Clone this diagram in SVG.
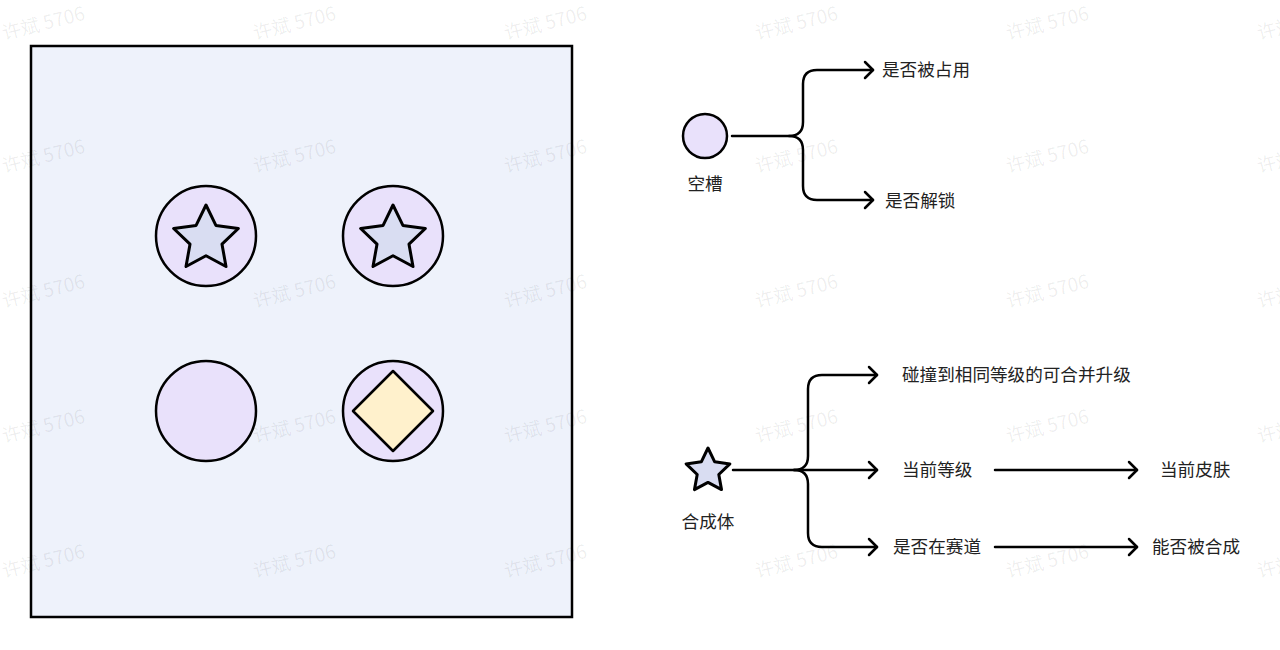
<svg xmlns="http://www.w3.org/2000/svg" xmlns:xlink="http://www.w3.org/1999/xlink" width="1280" height="650" viewBox="0 0 1280 650">
<style>
.ln{fill:none;stroke:#000;stroke-width:2.5;stroke-linecap:round;stroke-linejoin:round}
.ah{fill:none;stroke:#000;stroke-width:2.5;stroke-linecap:round;stroke-linejoin:round}
.slot{fill:#e9e1fb;stroke:#000;stroke-width:2.5}
.star{fill:#d9ddf2;stroke:#000;stroke-width:3;stroke-linejoin:round}
.t{font-family:"Noto Sans CJK SC","Noto Sans",sans-serif;font-size:17.6px;fill:#222}
.wm{font-family:"Noto Sans CJK SC","Noto Sans",sans-serif;font-size:19px;fill:#000;fill-opacity:0.07}
</style>
<defs>
<path id="starL" d="M0,-34 L9.9,-13.6 L32.34,-10.51 L16,5.2 L19.99,27.51 L0,16.8 L-19.99,27.51 L-16,5.2 L-32.34,-10.51 L-9.9,-13.6 Z"/>
<path id="starS" d="M0,-23 L6.7,-9.2 L21.88,-7.11 L10.8,3.5 L13.52,18.61 L0,11.4 L-13.52,18.61 L-10.8,3.5 L-21.88,-7.11 L-6.7,-9.2 Z"/>
<polyline id="head" points="-8,-8 0,0 -8,8"/>
</defs>
<rect width="1280" height="650" fill="#fff"/>

<g id="board">
<rect x="31" y="46" width="541" height="571" fill="#eef2fb" stroke="#000" stroke-width="2.5"/>
</g>
<g id="cell-star-1"><circle class="slot" cx="206" cy="236" r="50"/><use href="#starL" class="star" x="206" y="239"/></g>
<g id="cell-star-2"><circle class="slot" cx="393" cy="236" r="50"/><use href="#starL" class="star" x="393" y="239"/></g>
<g id="cell-empty"><circle class="slot" cx="206" cy="411" r="50"/></g>
<g id="cell-diamond"><circle class="slot" cx="393" cy="411" r="50"/><polygon points="393,371 433,411 393,451 353,411" fill="#fff1cc" stroke="#000" stroke-width="2.5" stroke-linejoin="round"/></g>

<g id="node-slot"><circle class="slot" cx="705" cy="136" r="22"/><text class="t" x="705" y="190" text-anchor="middle">空槽</text></g>
<g id="node-occupied"><text class="t" x="882" y="76">是否被占用</text></g>
<g id="node-unlock"><text class="t" x="885" y="207">是否解锁</text></g>

<g id="node-unit"><use href="#starS" class="star" x="708" y="471"/><text class="t" x="708" y="528" text-anchor="middle">合成体</text></g>
<g id="node-merge"><text class="t" x="902" y="381">碰撞到相同等级的可合并升级</text></g>
<g id="node-level"><text class="t" x="902" y="476">当前等级</text></g>
<g id="node-track"><text class="t" x="893" y="553">是否在赛道</text></g>
<g id="node-skin"><text class="t" x="1160" y="476">当前皮肤</text></g>
<g id="node-mergeable"><text class="t" x="1152" y="553">能否被合成</text></g>

<g id="connectors">
<path class="ln" d="M732 136 H789 Q803 136 803 122 V84 Q803 70 817 70 H873"/>
<path class="ln" d="M789 136 Q803 136 803 150 V186 Q803 200 817 200 H873"/>
<use href="#head" class="ah" x="873" y="70"/>
<use href="#head" class="ah" x="873" y="200"/>

<path class="ln" d="M733 470 H877"/>
<path class="ln" d="M794 470 Q808 470 808 456 V389 Q808 375 822 375 H877"/>
<path class="ln" d="M794 470 Q808 470 808 484 V533 Q808 547 822 547 H877"/>
<use href="#head" class="ah" x="877" y="375"/>
<use href="#head" class="ah" x="877" y="470"/>
<use href="#head" class="ah" x="877" y="547"/>

<path class="ln" d="M995 470 H1137"/>
<path class="ln" d="M995 547 H1137"/>
<use href="#head" class="ah" x="1137" y="470"/>
<use href="#head" class="ah" x="1137" y="547"/>
</g>

<g id="watermarks">
<text class="wm" transform="translate(4,40) rotate(-14)">许斌 5706</text>
<text class="wm" transform="translate(255,40) rotate(-14)">许斌 5706</text>
<text class="wm" transform="translate(506,40) rotate(-14)">许斌 5706</text>
<text class="wm" transform="translate(757,40) rotate(-14)">许斌 5706</text>
<text class="wm" transform="translate(1008,40) rotate(-14)">许斌 5706</text>
<text class="wm" transform="translate(1259,40) rotate(-14)">许斌 5706</text>
<text class="wm" transform="translate(4,173) rotate(-14)">许斌 5706</text>
<text class="wm" transform="translate(255,173) rotate(-14)">许斌 5706</text>
<text class="wm" transform="translate(506,173) rotate(-14)">许斌 5706</text>
<text class="wm" transform="translate(757,173) rotate(-14)">许斌 5706</text>
<text class="wm" transform="translate(1008,173) rotate(-14)">许斌 5706</text>
<text class="wm" transform="translate(1259,173) rotate(-14)">许斌 5706</text>
<text class="wm" transform="translate(4,308) rotate(-14)">许斌 5706</text>
<text class="wm" transform="translate(255,308) rotate(-14)">许斌 5706</text>
<text class="wm" transform="translate(506,308) rotate(-14)">许斌 5706</text>
<text class="wm" transform="translate(757,308) rotate(-14)">许斌 5706</text>
<text class="wm" transform="translate(1008,308) rotate(-14)">许斌 5706</text>
<text class="wm" transform="translate(1259,308) rotate(-14)">许斌 5706</text>
<text class="wm" transform="translate(4,443) rotate(-14)">许斌 5706</text>
<text class="wm" transform="translate(255,443) rotate(-14)">许斌 5706</text>
<text class="wm" transform="translate(506,443) rotate(-14)">许斌 5706</text>
<text class="wm" transform="translate(757,443) rotate(-14)">许斌 5706</text>
<text class="wm" transform="translate(1008,443) rotate(-14)">许斌 5706</text>
<text class="wm" transform="translate(1259,443) rotate(-14)">许斌 5706</text>
<text class="wm" transform="translate(4,578) rotate(-14)">许斌 5706</text>
<text class="wm" transform="translate(255,578) rotate(-14)">许斌 5706</text>
<text class="wm" transform="translate(506,578) rotate(-14)">许斌 5706</text>
<text class="wm" transform="translate(757,578) rotate(-14)">许斌 5706</text>
<text class="wm" transform="translate(1008,578) rotate(-14)">许斌 5706</text>
<text class="wm" transform="translate(1259,578) rotate(-14)">许斌 5706</text>
</g>
</svg>
